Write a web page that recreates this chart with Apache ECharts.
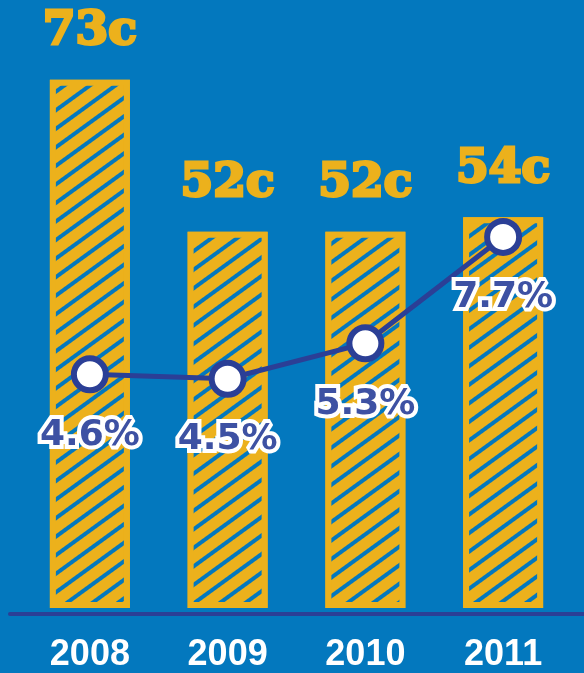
<!DOCTYPE html>
<html>
<head>
<meta charset="utf-8">
<script src="https://cdn.jsdelivr.net/npm/echarts@6/dist/echarts.min.js"></script>
<style>
html,body{margin:0;padding:0;background:#0378be;}
#chart{width:584px;height:673px;}
</style>
</head>
<body>
<div id="chart"></div>
<script>
const categories = ['2008', '2009', '2010', '2011'];
const priceCents = [73, 52, 52, 54];
const growthPct = [4.6, 4.5, 5.3, 7.7];

const BG = '#0378be';
const YELLOW = '#ecb11c';
const NAVY = '#2b3f96';

const chart = echarts.init(document.getElementById('chart'));
chart.setOption({
  backgroundColor: BG,
  animation: false,
  grid: [
    { left: 21, right: 12, top: 29, bottom: 59 },
    { left: 10, right: 0, top: 29, bottom: 59 }
  ],
  xAxis: [
    {
      type: 'category', gridIndex: 0, data: categories,
      axisLine: { show: false }, axisTick: { show: false },
      axisLabel: { color: '#fff', fontFamily: 'Liberation Sans', fontWeight: 'bold', fontSize: 36, margin: 29 }
    },
    {
      type: 'value', gridIndex: 1, min: 0, max: 1,
      axisLine: { show: true, lineStyle: { color: NAVY, width: 4 } },
      axisTick: { show: false }, axisLabel: { show: false }, splitLine: { show: false }
    }
  ],
  yAxis: [
    { type: 'value', gridIndex: 0, min: 0, max: 80, show: false },
    { type: 'value', gridIndex: 0, min: -0.67, max: 12.39, show: false },
    { type: 'value', gridIndex: 1, min: 0, max: 1, show: false }
  ],
  series: [
    {
      type: 'bar', xAxisIndex: 0, yAxisIndex: 0, data: priceCents, barWidth: 80,
      itemStyle: {
        color: YELLOW, borderColor: YELLOW, borderWidth: 6,
        decal: { symbol: 'rect', symbolSize: 1, color: BG, dashArrayX: [1, 0], dashArrayY: [4, 11], rotation: -Math.PI / 5 }
      },
      label: {
        show: true, position: 'top', distance: 24, formatter: '{c}c',
        color: YELLOW, textBorderColor: YELLOW, textBorderWidth: 3,
        fontFamily: 'DejaVu Serif', fontWeight: 'bold', fontSize: 47
      }
    },
    {
      type: 'line', xAxisIndex: 0, yAxisIndex: 1, data: growthPct,
      symbol: 'circle', symbolSize: 32,
      lineStyle: { color: NAVY, width: 5 },
      itemStyle: { color: '#fff', borderColor: NAVY, borderWidth: 6 },
      label: {
        show: true, position: 'bottom', distance: 24, formatter: '{c}%',
        color: '#3d51a3', textBorderColor: '#fff', textBorderWidth: 8,
        fontFamily: 'DejaVu Sans', fontWeight: 'bold', fontSize: 36
      },
      z: 5
    }
  ]
});
</script>
</body>
</html>
